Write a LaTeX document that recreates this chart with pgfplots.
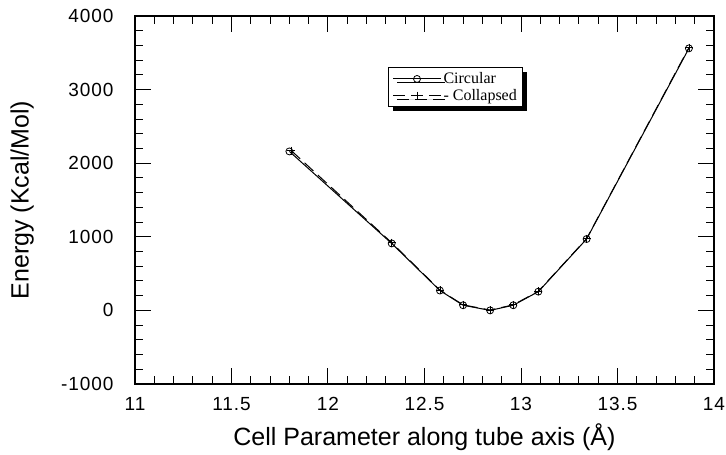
\documentclass[border=0pt]{standalone}
\usepackage{fontspec}
\setmainfont{Liberation Sans}
\newfontfamily\legfont{Liberation Serif}
\usepackage{pgfplots}
\pgfplotsset{compat=1.18}
\usetikzlibrary{shadows}

\begin{document}
\begin{tikzpicture}[x=1pt,y=1pt]
% page = 726 x 455, axis box lower-left at (0,0); title is cut at the top edge as in the original
\useasboundingbox (-135,-71) rectangle (591,384);
\node[anchor=base, font=\fontsize{19}{21}\selectfont, inner sep=0pt] at (282,387) {Energy vs. Cell parameter along (10,10)};
\begin{axis}[
  at={(0,0)}, anchor=south west,
  scale only axis, width=579pt, height=368pt,
  xmin=11, xmax=14, ymin=-1000, ymax=4000,
  xtick={11,11.5,...,14}, minor x tick num=4,
  ytick={-1000,0,...,4000}, minor y tick num=4,
  tick align=inside,
  major tick length=16pt, minor tick length=8pt,
  every tick/.style={black, line width=1pt},
  axis line style={line width=2pt},
  /pgf/number format/assume math mode=true,
  /pgf/number format/set thousands separator={},
  ticklabel style={font=\fontsize{19}{21}\selectfont\addfontfeatures{LetterSpace=5}},
  xticklabel style={yshift=-10pt},
  yticklabel style={xshift=-18pt},
  xlabel={Cell Parameter along tube axis (Å)},
  ylabel={Energy (Kcal/Mol)},
  label style={font=\fontsize{25}{27}\selectfont},
  xlabel style={at={(axis description cs:0.5,-0.144)}, anchor=center},
  ylabel style={at={(axis description cs:-0.195,0.5)}, anchor=center},
  legend style={at={(0.437,0.861)}, anchor=north west, draw=black, line width=1pt,
    font=\legfont\fontsize{16}{17}\selectfont, fill=white,
    drop shadow={shadow xshift=4pt, shadow yshift=-4pt, opacity=1, fill=black},
    inner xsep=4pt, inner ysep=3pt, row sep=0pt},
  legend cell align=left,
  legend image code/.code={\draw[mark repeat=2,mark phase=2,#1] plot coordinates {(0pt,0pt) (24pt,0pt) (48pt,0pt)};},
]
\addplot[black, line width=1pt, mark=o, mark size=3.5pt, mark options={solid, line width=0.8pt}] coordinates {
  (11.80,2160) (12.33,910) (12.58,270) (12.70,70) (12.84,0)
  (12.96,70) (13.09,255) (13.34,970) (13.87,3560)
};
\addlegendentry{Circular}
\addplot[black, line width=1pt, dash pattern=on 12pt off 6pt, mark=+, mark size=4pt, mark options={solid, line width=0.8pt}] coordinates {
  (11.81,2170) (12.33,920) (12.58,275) (12.70,75) (12.84,5)
  (12.96,75) (13.09,260) (13.34,975) (13.87,3570)
};
\addlegendentry{- Collapsed}
\end{axis}
\end{tikzpicture}
\end{document}
